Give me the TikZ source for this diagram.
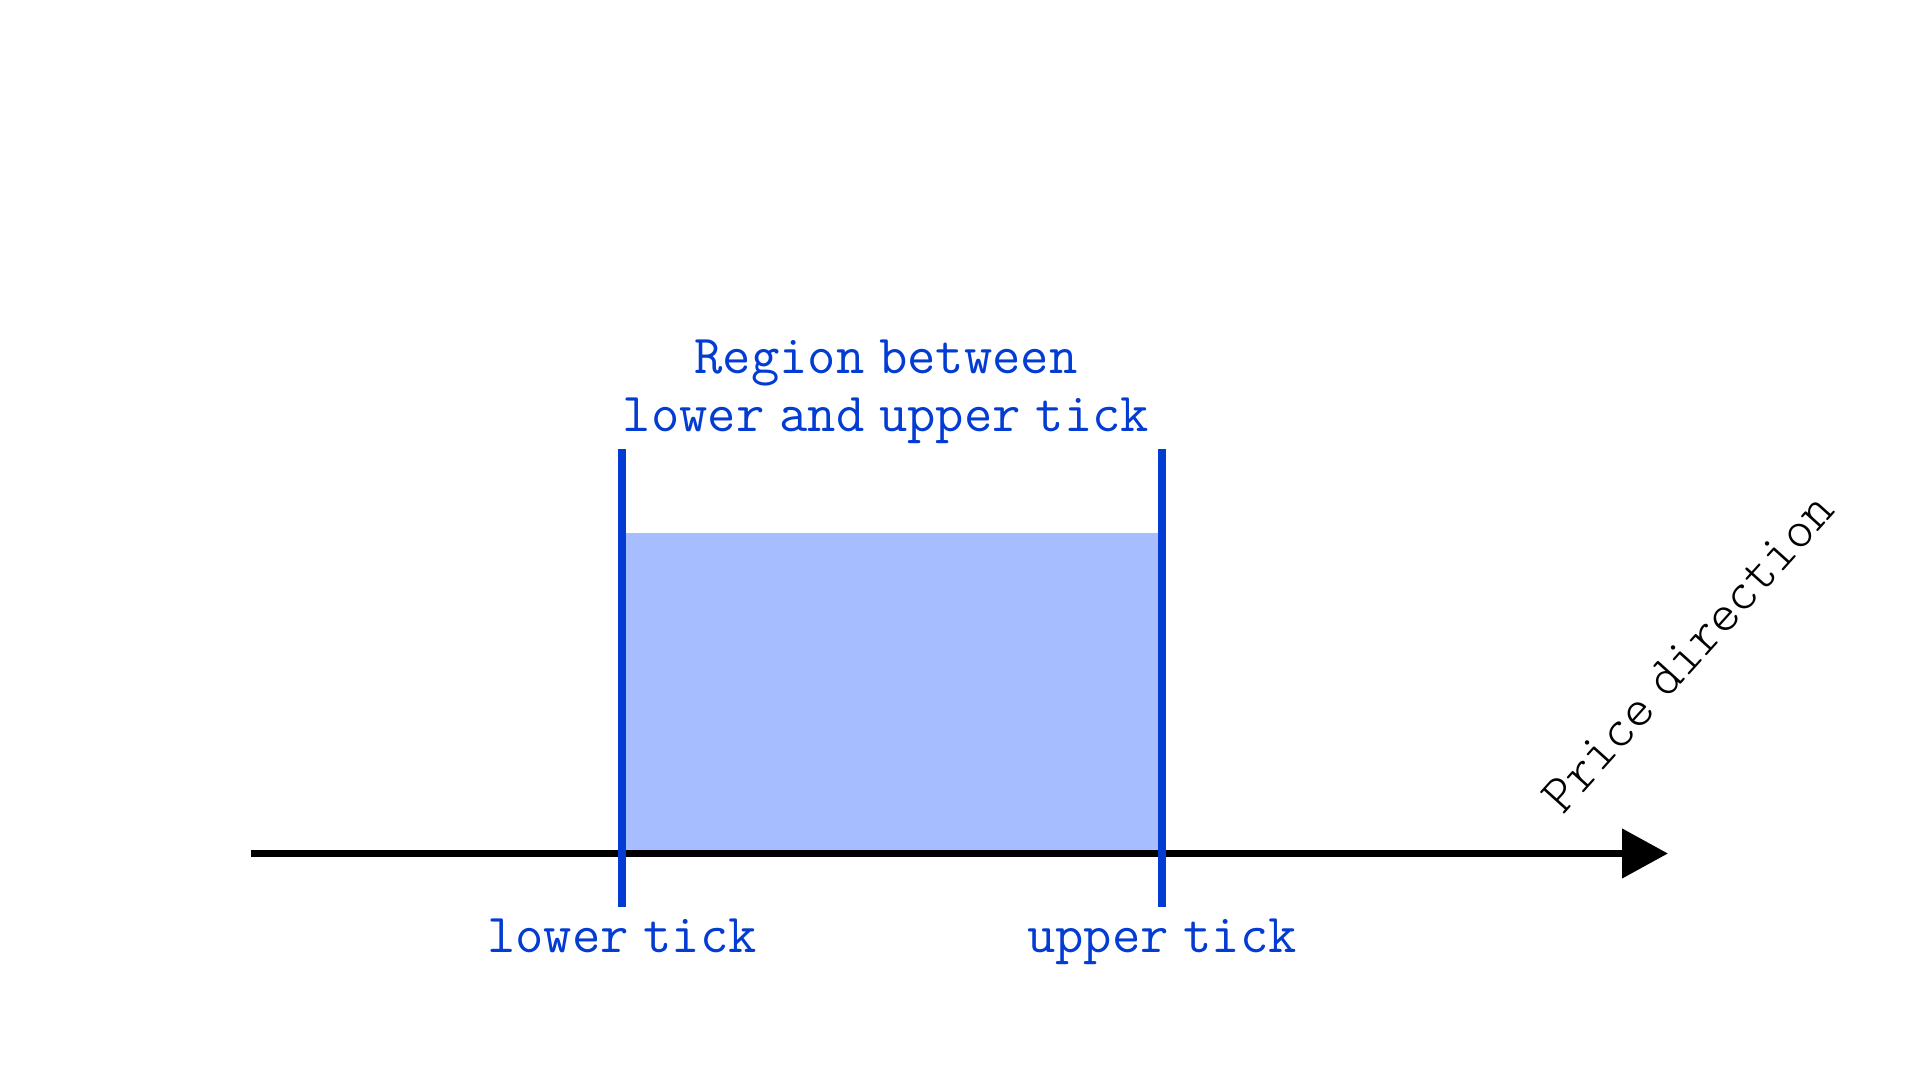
\documentclass[tikz,border=0pt]{standalone}
\usepackage{fontspec}
\usetikzlibrary{arrows.meta}
\definecolor{tickblue}{RGB}{3,60,211}
\definecolor{regionfill}{RGB}{166,190,255}
\newcommand\myticklabelfont{\ttfamily\fontsize{15.65}{16.7}\selectfont\spaceskip=0.27em plus 0pt minus 0pt\relax}
\newcommand\myaxislabelfont{\ttfamily\fontseries{l}\fontsize{15.2}{17}\selectfont\spaceskip=0.3em plus 0pt minus 0pt\relax}
\tikzset{
  tickline/.style={draw=tickblue, line width=2.3pt},
  ticklabel/.style={text=tickblue, font=\myticklabelfont, align=center, inner sep=0pt},
  axisline/.style={draw=black, line width=2.2pt, -{Triangle[length=0.46cm,width=0.48cm]}},
  axislabel/.style={text=black, font=\myaxislabelfont, inner sep=0pt, rotate=48}
}
\begin{document}
\begin{tikzpicture}[x=1cm,y=1cm]
\useasboundingbox (0,0) rectangle (19.2,10.8);
% region fill
\fill[regionfill] (6.22,2.265) rectangle (11.62,5.47);
% axis
\coordinate (axstart) at (2.51,2.265);
\coordinate (axend) at (16.68,2.265);
\draw[axisline] (axstart) -- (axend);
% ticks
\coordinate (lowtop) at (6.22,6.31);
\coordinate (lowbot) at (6.22,1.73);
\coordinate (uptop) at (11.62,6.31);
\coordinate (upbot) at (11.62,1.73);
\draw[tickline] (lowtop) -- (lowbot);
\draw[tickline] (uptop) -- (upbot);
% labels
\node[ticklabel, anchor=base] (lowlab) at (6.22,1.27) {lower tick};
\node[ticklabel, anchor=base] (uplab) at (11.62,1.27) {upper tick};
\node[ticklabel, anchor=base] (region) at (8.86,6.48) {Region between\\lower and upper tick};
\node[axislabel] (price) at (16.88,4.27) {Price direction};
\end{tikzpicture}
\end{document}
